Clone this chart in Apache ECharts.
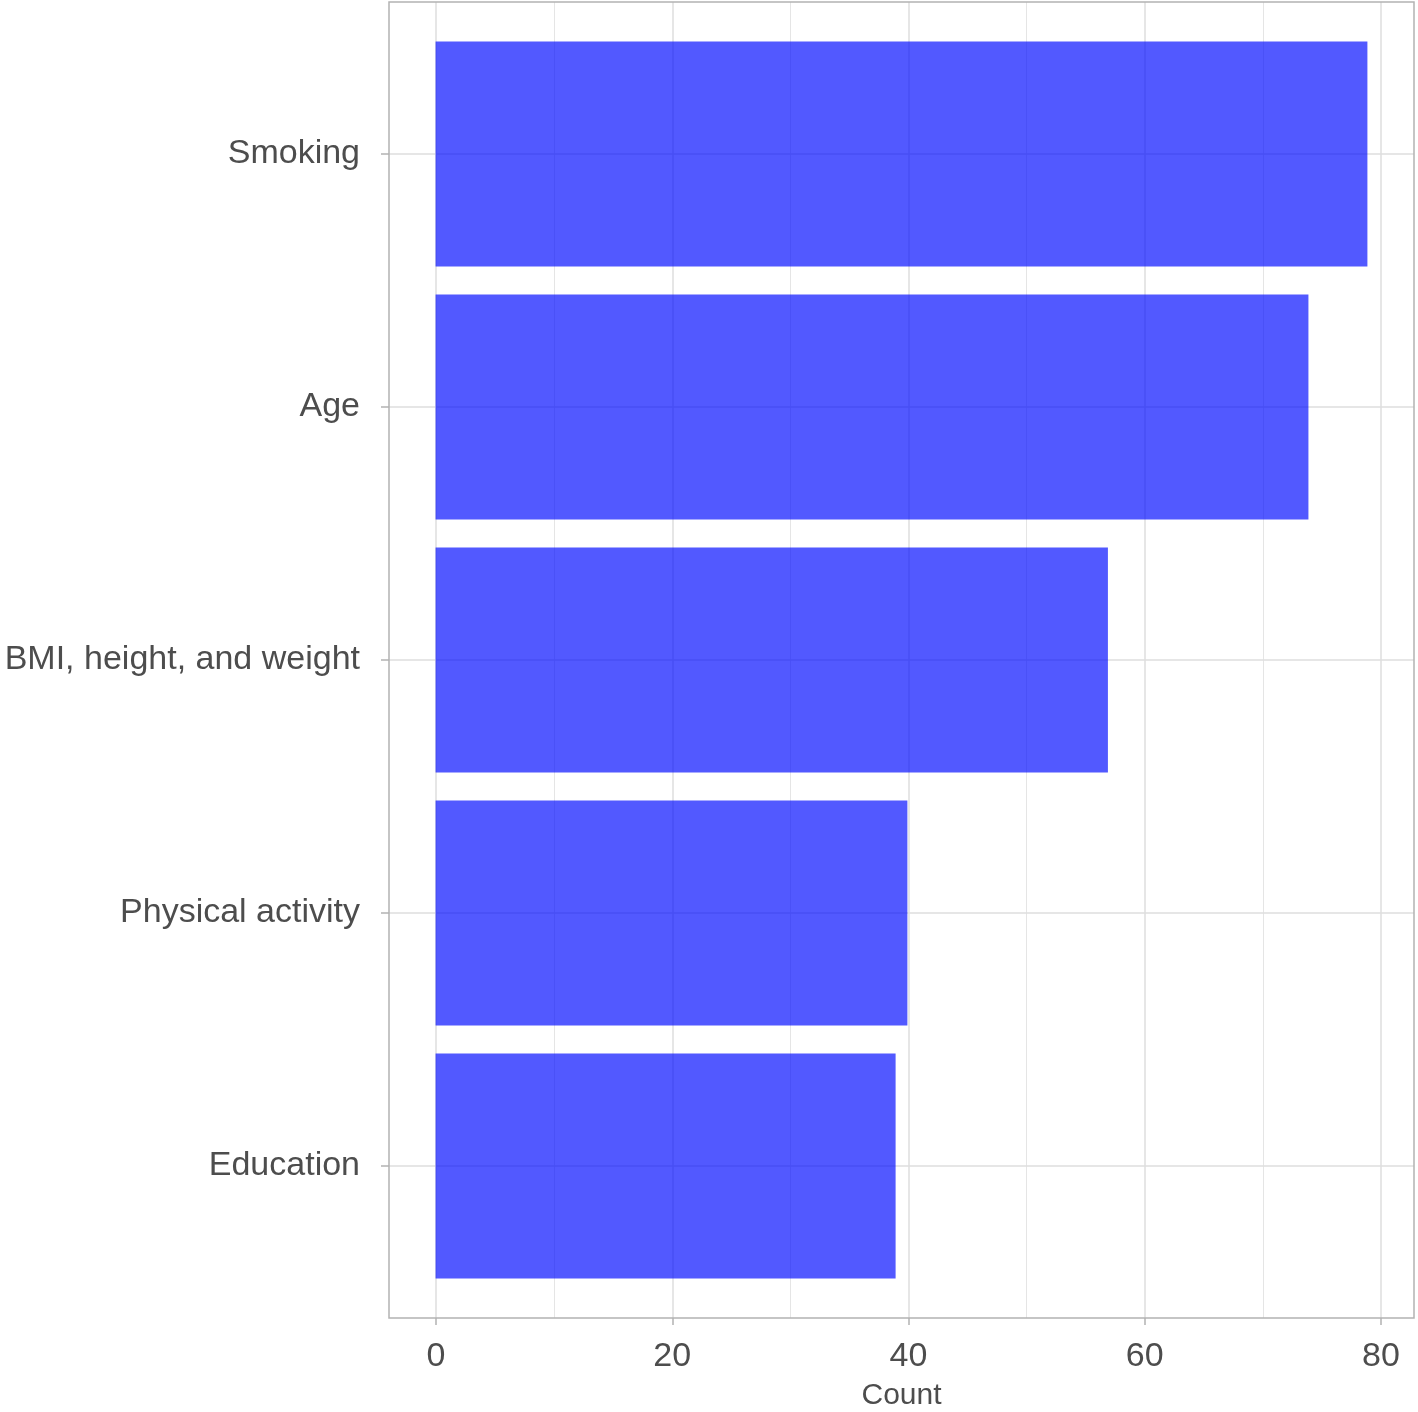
<!DOCTYPE html>
<html>
<head>
<meta charset="utf-8">
<script src="https://cdn.jsdelivr.net/npm/echarts@6/dist/echarts.min.js"></script>
<style>
  html, body { margin: 0; padding: 0; background: #fff; }
  #chart { width: 1418px; height: 1412px; }
</style>
</head>
<body>
<div id="chart"></div>
<script>
const categories = ["Smoking", "Age", "BMI, height, and weight", "Physical activity", "Education"];
const counts = [79, 74, 57, 40, 39];
const xTicks = [0, 20, 40, 60, 80];

const FONT = "Liberation Sans";
const TEXT = "#4D4D4D";
const GRID = "#DEDEDE";
const BORDER = "#B3B3B3";

// ggplot-style 5% expansion of the count scale
const xMin = -0.05 * 79;
const xMax = 79 * 1.05;

const chart = echarts.init(document.getElementById("chart"));

const option = {
  animation: false,
  textStyle: { fontFamily: FONT },
  grid: [
    // vertical grid lines + x tick labels (0..80)
    { left: 436, right: 37, top: 2, bottom: 94, outerBoundsMode: "none" },
    // bars + category axis, full panel width
    { left: 389, right: 4, top: 27.5, bottom: 119.5, outerBoundsMode: "none" },
    // horizontal grid lines at category centres
    { left: 389, right: 4, top: 154, bottom: 246, outerBoundsMode: "none" },
  ],
  xAxis: [
    {
      gridIndex: 0,
      type: "value",
      min: xTicks[0],
      max: xTicks[xTicks.length - 1],
      interval: 20,
      axisLine: { show: false },
      axisTick: { show: true, length: 7, lineStyle: { color: BORDER, width: 1.5 } },
      axisLabel: { fontSize: 34, color: TEXT, margin: 22, fontFamily: FONT },
      splitLine: { show: true, lineStyle: { color: GRID, width: 1.5 } },
      minorTick: { show: false, splitNumber: 2 },
      minorSplitLine: { show: true, lineStyle: { color: GRID, width: 0.8 } },
    },
    {
      gridIndex: 1,
      type: "value",
      min: xMin,
      max: xMax,
      name: "Count",
      nameLocation: "middle",
      nameGap: 88,
      nameTextStyle: { fontSize: 30, color: TEXT, fontFamily: FONT },
      axisLine: { show: false, onZero: false },
      axisTick: { show: false },
      axisLabel: { show: false },
      splitLine: { show: false },
    },
    { gridIndex: 2, type: "value", min: 0, max: 1, show: false },
  ],
  yAxis: [
    { gridIndex: 0, type: "value", show: false },
    {
      gridIndex: 1,
      type: "category",
      data: categories,
      inverse: true,
      axisLine: { show: false, onZero: false },
      axisTick: { show: true, alignWithLabel: true, length: 8, lineStyle: { color: BORDER, width: 1.5 } },
      axisLabel: { fontSize: 34, color: TEXT, margin: 29, fontFamily: FONT },
      splitLine: { show: false },
    },
    {
      gridIndex: 2,
      type: "value",
      min: 0,
      max: 4,
      interval: 1,
      axisLine: { show: false },
      axisTick: { show: false },
      axisLabel: { show: false },
      splitLine: { show: true, lineStyle: { color: GRID, width: 1.5 } },
    },
  ],
  series: [
    {
      type: "bar",
      xAxisIndex: 1,
      yAxisIndex: 1,
      data: counts,
      barWidth: 225,
      itemStyle: { color: "rgba(0, 10, 255, 0.68)" },
      z: 5,
    },
  ],
  graphic: [
    {
      type: "rect",
      shape: { x: 389, y: 2, width: 1025, height: 1316 },
      style: { fill: null, stroke: BORDER, lineWidth: 1.5 },
      z: 100,
      silent: true,
    },
  ],
};

chart.setOption(option);
</script>
</body>
</html>
